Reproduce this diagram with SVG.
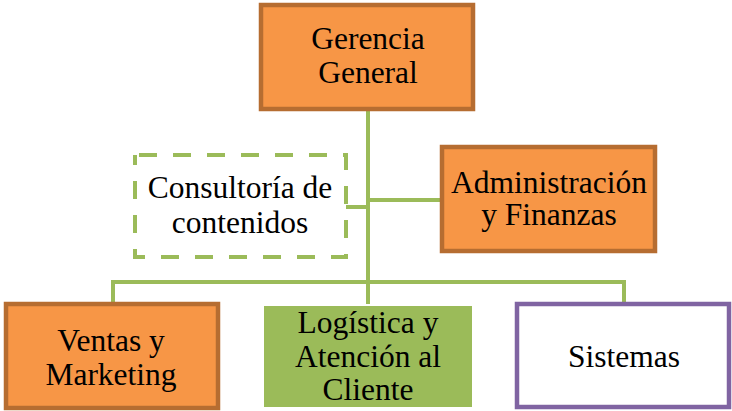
<svg xmlns="http://www.w3.org/2000/svg" width="732" height="411" viewBox="0 0 732 411">
<style>
text{font-family:"Liberation Serif","Times New Roman",serif;font-size:31.5px;fill:#000;text-anchor:middle}
.org{fill:#f79646;stroke:#b66d31;stroke-width:4.5}
.conn{fill:none;stroke:#9bbb59;stroke-width:4}
</style>
<rect width="732" height="411" fill="#fff"/>
<g id="connectors">
<line class="conn" x1="368" y1="110" x2="368" y2="304"/>
<line class="conn" x1="346" y1="207" x2="368" y2="207"/>
<line class="conn" x1="368" y1="200" x2="440" y2="200"/>
<polyline class="conn" points="113,302 113,282 624,282 624,302"/>
</g>
<g id="gerencia">
<rect class="org" x="261" y="5" width="212" height="104"/>
<text x="368" y="49">Gerencia</text>
<text x="368" y="83">General</text>
</g>
<g id="consultoria">
<rect x="135" y="155" width="211" height="102" fill="#fff" stroke="#9bbb59" stroke-width="4" stroke-dasharray="18,16" stroke-dashoffset="-4"/>
<text x="240" y="198">Consultoría de</text>
<text x="240" y="233">contenidos</text>
</g>
<g id="administracion">
<rect class="org" x="442" y="147" width="213" height="104"/>
<text x="549" y="193">Administración</text>
<text x="549" y="225">y Finanzas</text>
</g>
<g id="ventas">
<rect class="org" x="6" y="304" width="212" height="104"/>
<text x="111" y="351">Ventas y</text>
<text x="111" y="385">Marketing</text>
</g>
<g id="logistica">
<rect x="264" y="306" width="208" height="101" fill="#9bbb59"/>
<text x="368" y="333">Logística y</text>
<text x="368" y="367">Atención al</text>
<text x="368" y="400">Cliente</text>
</g>
<g id="sistemas">
<rect x="517" y="304" width="212" height="103" fill="#fff" stroke="#8064a2" stroke-width="4.5"/>
<text x="624" y="367">Sistemas</text>
</g>
</svg>
